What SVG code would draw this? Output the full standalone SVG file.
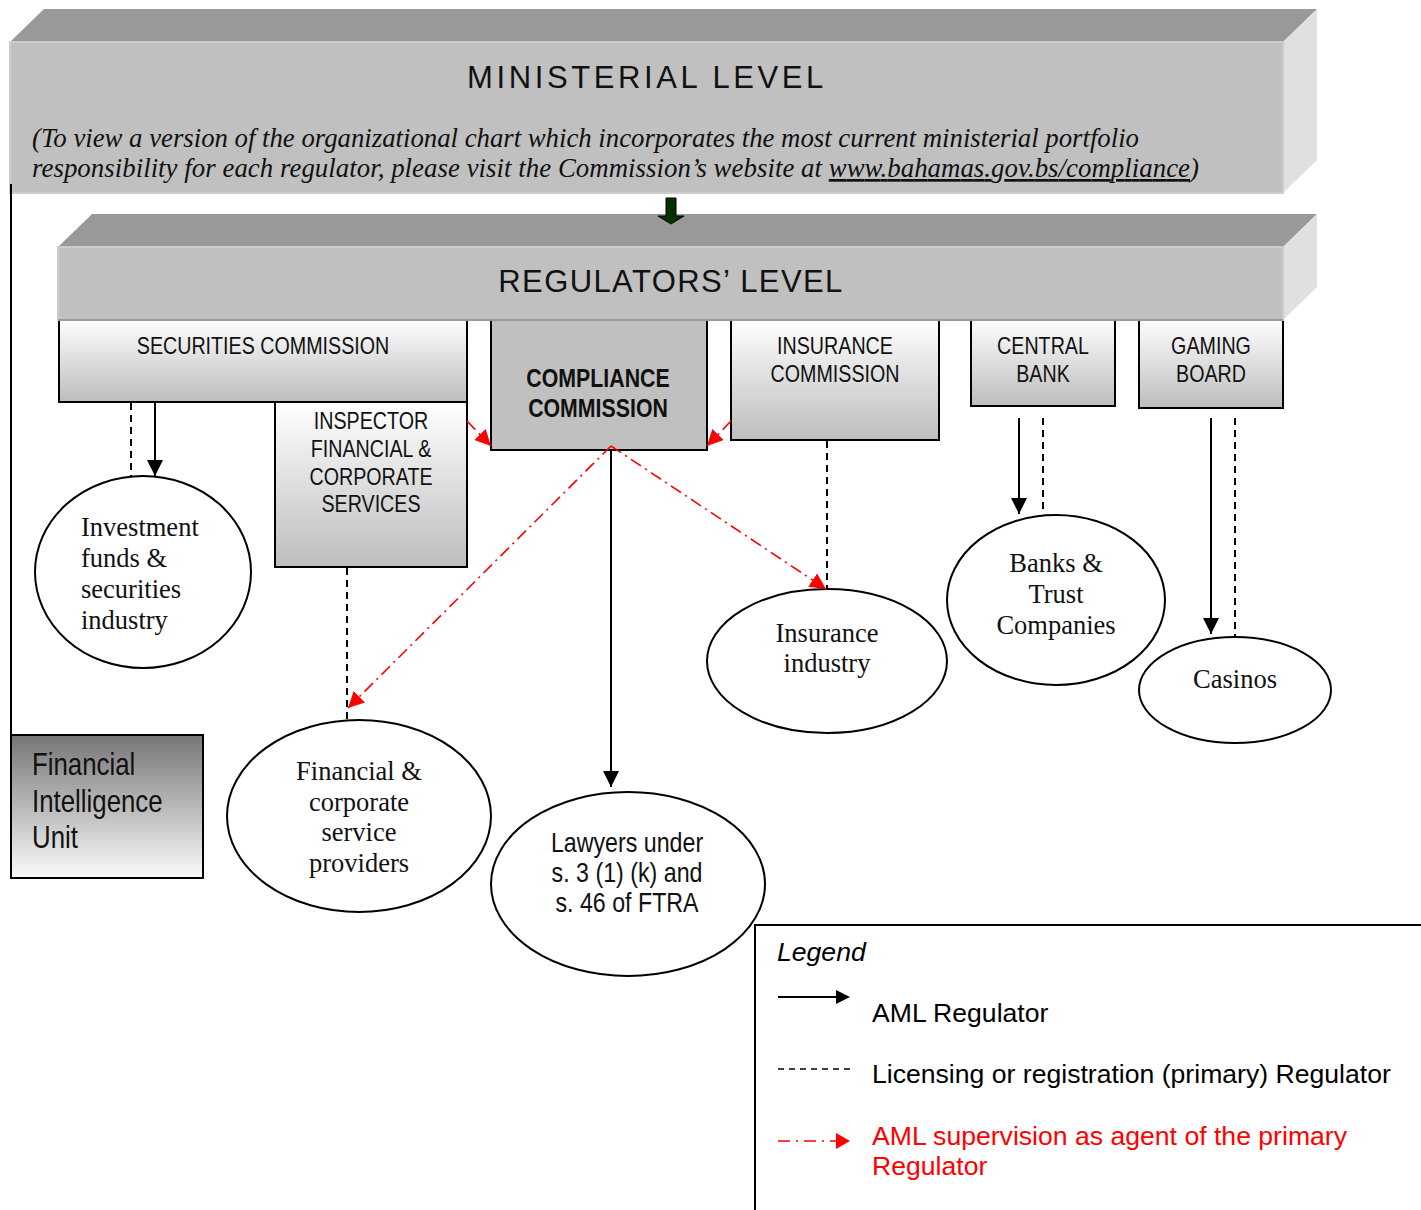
<svg xmlns="http://www.w3.org/2000/svg" width="1421" height="1210" viewBox="0 0 1421 1210">
  <defs>
    <linearGradient id="boxFade" x1="0" y1="0" x2="0" y2="1">
      <stop offset="0" stop-color="#ffffff"/>
      <stop offset="1" stop-color="#bdbdbd"/>
    </linearGradient>
    <linearGradient id="fiuFade" x1="0" y1="0" x2="0" y2="1">
      <stop offset="0" stop-color="#767676"/>
      <stop offset="1" stop-color="#fbfbfb"/>
    </linearGradient>
    <marker id="arrowBlack" viewBox="0 0 16 16" refX="16" refY="8" markerWidth="16" markerHeight="16" markerUnits="userSpaceOnUse" orient="auto">
      <path d="M0,0 L16,8 L0,16 z" fill="#000"/>
    </marker>
    <marker id="arrowRed" viewBox="0 0 16 16" refX="16" refY="8" markerWidth="16" markerHeight="16" markerUnits="userSpaceOnUse" orient="auto">
      <path d="M0,0 L16,8 L0,16 z" fill="#ff0000"/>
    </marker>
  </defs>
  <style>
    .top { fill: #999999; }
    .side { fill: #e0e0e0; }
    .front { fill: #c0c0c0; stroke: #cccccc; stroke-width: 2; }
    .title { font-family: "Liberation Sans", Arial, sans-serif; font-size: 31px; fill: #111; text-anchor: middle; }
    .note { font-family: "Liberation Serif", "Times New Roman", serif; font-style: italic; font-size: 26.8px; fill: #111; }
    .box { fill: url(#boxFade); stroke: #000; stroke-width: 2; }
    .boxSolid { fill: #c0c0c0; stroke: #000; stroke-width: 2; }
    /* condensed sans: regular face squeezed horizontally via transform */
    .narrow { font-family: "Liberation Sans", Arial, sans-serif; font-size: 24px; fill: #111; text-anchor: middle; }
    .narrowBold { font-family: "Liberation Sans", Arial, sans-serif; font-size: 26px; font-weight: bold; fill: #111; text-anchor: middle; }
    .lawyer { font-family: "Liberation Sans", Arial, sans-serif; font-size: 27px; fill: #111; text-anchor: middle; }
    .fiu { font-family: "Liberation Sans", Arial, sans-serif; font-size: 31.5px; fill: #111; }
    .oval { fill: #ffffff; stroke: #000; stroke-width: 2; }
    .serif { font-family: "Liberation Serif", "Times New Roman", serif; font-size: 26.5px; fill: #111; text-anchor: middle; }
    .serifLeft { font-family: "Liberation Serif", "Times New Roman", serif; font-size: 26.5px; fill: #111; text-anchor: start; }
    .solid { stroke: #000; stroke-width: 2; fill: none; }
    .dash { stroke: #000; stroke-width: 2; stroke-dasharray: 7 5; fill: none; }
    .agent { stroke: #ff0000; stroke-width: 1.6; stroke-dasharray: 12 5 2 5; fill: none; }
    .legend { font-family: "Liberation Sans", Arial, sans-serif; font-size: 26.6px; fill: #000; }
    .legendRed { font-family: "Liberation Sans", Arial, sans-serif; font-size: 26.6px; fill: #ff0000; }
  </style>

  <!-- ministerial level block -->
  <g id="ministerial">
    <polygon class="top" points="10,42 44,9 1317,9 1283,42"/>
    <polygon class="side" points="1283,42 1317,9 1317,160 1283,193"/>
    <rect class="front" x="10" y="42" width="1273" height="151"/>
    <text class="title" x="647" y="88" letter-spacing="3.6">MINISTERIAL LEVEL</text>
    <text class="note" x="32" y="147" textLength="1107">(To view a version of the organizational chart which incorporates the most current ministerial portfolio</text>
    <text class="note" x="32" y="177" textLength="1167">responsibility for each regulator, please visit the Commission’s website at <tspan text-decoration="underline">www.bahamas.gov.bs/compliance</tspan>)</text>
  </g>

  <!-- regulator boxes (drawn before the level band so its edge covers their tops) -->
  <g id="securities-commission">
    <rect class="box" x="59" y="318" width="408" height="84"/>
    <text class="narrow" transform="translate(263,354) scale(0.82,1)">SECURITIES COMMISSION</text>
  </g>
  <g id="inspector-financial">
    <rect class="box" x="275" y="402" width="192" height="165"/>
    <text class="narrow" transform="translate(371,429) scale(0.82,1)">INSPECTOR</text>
    <text class="narrow" transform="translate(371,457) scale(0.82,1)">FINANCIAL &amp;</text>
    <text class="narrow" transform="translate(371,485) scale(0.82,1)">CORPORATE</text>
    <text class="narrow" transform="translate(371,512) scale(0.82,1)">SERVICES</text>
  </g>
  <g id="compliance-commission">
    <rect class="boxSolid" x="491" y="318" width="216" height="132"/>
    <text class="narrowBold" transform="translate(598,387) scale(0.82,1)">COMPLIANCE</text>
    <text class="narrowBold" transform="translate(598,417) scale(0.82,1)">COMMISSION</text>
  </g>
  <g id="insurance-commission">
    <rect class="box" x="731" y="318" width="208" height="122"/>
    <text class="narrow" transform="translate(835,354) scale(0.82,1)">INSURANCE</text>
    <text class="narrow" transform="translate(835,382) scale(0.82,1)">COMMISSION</text>
  </g>
  <g id="central-bank">
    <rect class="box" x="971" y="318" width="144" height="88"/>
    <text class="narrow" transform="translate(1043,354) scale(0.82,1)">CENTRAL</text>
    <text class="narrow" transform="translate(1043,382) scale(0.82,1)">BANK</text>
  </g>
  <g id="gaming-board">
    <rect class="box" x="1139" y="318" width="144" height="90"/>
    <text class="narrow" transform="translate(1211,354) scale(0.82,1)">GAMING</text>
    <text class="narrow" transform="translate(1211,382) scale(0.82,1)">BOARD</text>
  </g>

  <!-- regulators level band -->
  <g id="regulators">
    <polygon class="top" points="58,247 92,214 1317,214 1283,247"/>
    <polygon class="side" points="1283,247 1317,214 1317,287 1283,320"/>
    <rect class="front" x="58" y="247" width="1225" height="73"/>
    <line x1="58" y1="320" x2="1283" y2="320" stroke="#8a8a8a" stroke-width="1.5"/>
    <text class="title" x="671" y="292" letter-spacing="1.4">REGULATORS’ LEVEL</text>
  </g>

  <!-- downward block arrow between levels -->
  <g id="level-arrow">
    <polygon points="666,198 676,198 676,216 684,216 671,224 658,216 666,216" fill="#003300" stroke="#000" stroke-width="1"/>
  </g>

  <!-- regulated sectors -->
  <g id="investment-funds">
    <ellipse class="oval" cx="143" cy="572" rx="108" ry="96"/>
    <text class="serifLeft" x="81" y="536">Investment</text>
    <text class="serifLeft" x="81" y="567">funds &amp;</text>
    <text class="serifLeft" x="81" y="598">securities</text>
    <text class="serifLeft" x="81" y="629">industry</text>
  </g>
  <g id="financial-corporate-providers">
    <ellipse class="oval" cx="359" cy="816" rx="132" ry="96"/>
    <text class="serif" x="359" y="780">Financial &amp;</text>
    <text class="serif" x="359" y="811">corporate</text>
    <text class="serif" x="359" y="841">service</text>
    <text class="serif" x="359" y="872">providers</text>
  </g>
  <g id="lawyers">
    <ellipse class="oval" cx="628" cy="884" rx="137" ry="92"/>
    <text class="lawyer" transform="translate(627,852) scale(0.86,1)">Lawyers under</text>
    <text class="lawyer" transform="translate(627,882) scale(0.86,1)">s. 3 (1) (k) and</text>
    <text class="lawyer" transform="translate(627,912) scale(0.86,1)">s. 46 of FTRA</text>
  </g>
  <g id="insurance-industry">
    <ellipse class="oval" cx="827" cy="661" rx="120" ry="72"/>
    <text class="serif" x="827" y="642">Insurance</text>
    <text class="serif" x="827" y="672">industry</text>
  </g>
  <g id="banks-trust">
    <ellipse class="oval" cx="1056" cy="600" rx="109" ry="85"/>
    <text class="serif" x="1056" y="572">Banks &amp;</text>
    <text class="serif" x="1056" y="603">Trust</text>
    <text class="serif" x="1056" y="634">Companies</text>
  </g>
  <g id="casinos">
    <ellipse class="oval" cx="1235" cy="690" rx="96" ry="53"/>
    <text class="serif" x="1235" y="688" font-size="29">Casinos</text>
  </g>

  <!-- financial intelligence unit -->
  <g id="fiu">
    <rect x="11" y="735" width="192" height="143" fill="url(#fiuFade)" stroke="#000" stroke-width="2"/>
    <text class="fiu" transform="translate(32,775) scale(0.82,1)">Financial</text>
    <text class="fiu" transform="translate(32,812) scale(0.82,1)">Intelligence</text>
    <text class="fiu" transform="translate(32,848) scale(0.82,1)">Unit</text>
  </g>

  <!-- connectors -->
  <g id="connectors">
    <line class="solid" x1="11" y1="184" x2="11" y2="735"/>
    <line class="solid" x1="155" y1="402" x2="155" y2="476" marker-end="url(#arrowBlack)"/>
    <line class="dash" x1="131" y1="403" x2="131" y2="476"/>
    <line class="dash" x1="347" y1="568" x2="347" y2="720"/>
    <line class="agent" x1="467" y1="421" x2="491" y2="446" marker-end="url(#arrowRed)"/>
    <line class="agent" x1="731" y1="421" x2="707" y2="446" marker-end="url(#arrowRed)"/>
    <line class="solid" x1="611" y1="450" x2="611" y2="787" marker-end="url(#arrowBlack)"/>
    <line class="agent" x1="611" y1="446" x2="348" y2="708" marker-end="url(#arrowRed)"/>
    <line class="agent" x1="611" y1="446" x2="826" y2="589" marker-end="url(#arrowRed)"/>
    <line class="dash" x1="827" y1="441" x2="827" y2="589"/>
    <line class="solid" x1="1019" y1="418" x2="1019" y2="514" marker-end="url(#arrowBlack)"/>
    <line class="dash" x1="1043" y1="418" x2="1043" y2="514"/>
    <line class="solid" x1="1211" y1="418" x2="1211" y2="634" marker-end="url(#arrowBlack)"/>
    <line class="dash" x1="1235" y1="418" x2="1235" y2="637"/>
  </g>

  <!-- legend -->
  <g id="legend">
    <polyline points="755,1210 755,925 1421,925" fill="none" stroke="#000" stroke-width="2"/>
    <text class="legend" x="777" y="961" font-style="italic">Legend</text>
    <line x1="778" y1="997" x2="838" y2="997" stroke="#000" stroke-width="2"/>
    <polygon points="836,990 850,997 836,1004" fill="#000"/>
    <text class="legend" x="872" y="1022">AML Regulator</text>
    <line x1="778" y1="1069" x2="852" y2="1069" stroke="#000" stroke-width="1.5" stroke-dasharray="6 5"/>
    <text class="legend" x="872" y="1083">Licensing or registration (primary) Regulator</text>
    <line x1="778" y1="1141" x2="836" y2="1141" stroke="#ff0000" stroke-width="1.6" stroke-dasharray="12 6 2 6"/>
    <polygon points="836,1133 850,1141 836,1149" fill="#ff0000"/>
    <text class="legendRed" x="872" y="1145">AML supervision as agent of the primary</text>
    <text class="legendRed" x="872" y="1175">Regulator</text>
  </g>
</svg>
